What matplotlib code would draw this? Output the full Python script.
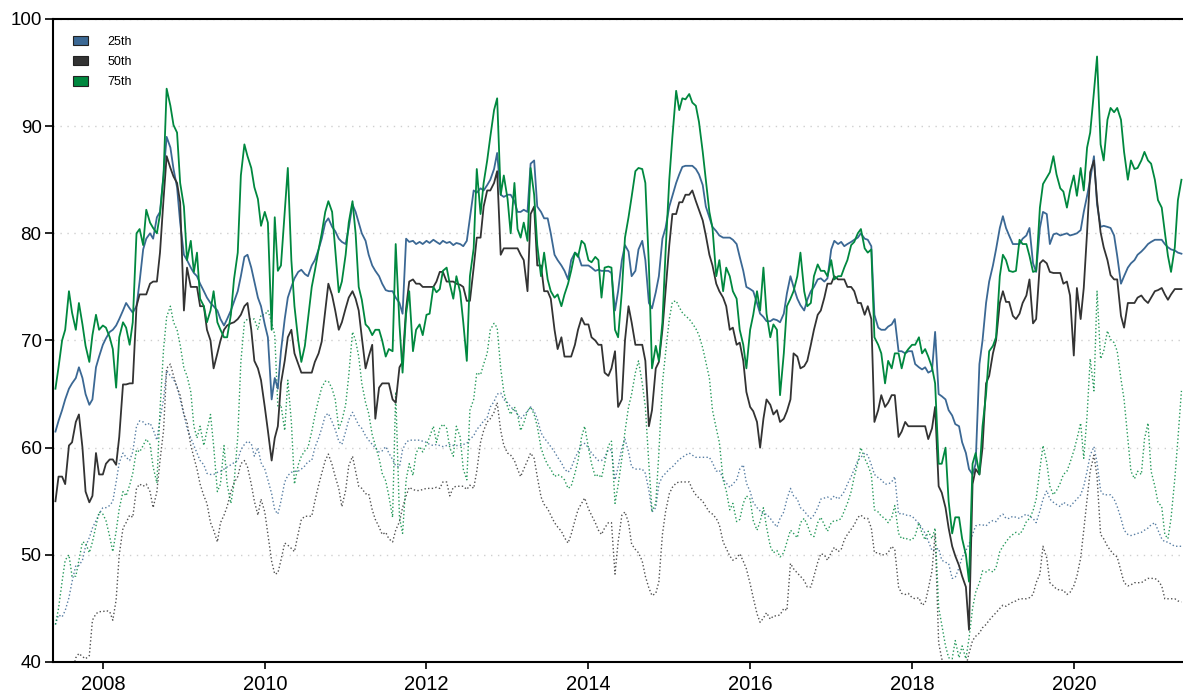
import matplotlib
matplotlib.use("Agg")
import matplotlib.pyplot as plt
import matplotlib.dates as mdates
from matplotlib.patches import Patch
import pandas as pd

plt.rcParams["font.family"] = ["Liberation Sans", "DejaVu Sans"]

# Semi-monthly observations (1st and 15th), June 2007 - May 2021
START = "2007-06-01"

labels = ["25th", "50th", "75th"]
colors = ["#3b6894", "#333333", "#00883f"]

# Current percentile levels (solid lines)
p25 = [
    61.5, 62.5, 63.5, 64.5, 65.5, 66, 66.5, 67.5, 66.5, 65, 64, 64.5, 67.5, 68.5,
    69.6, 70.2, 70.8, 71, 71.4, 72, 72.8, 73.5, 73, 72.6, 73.2, 75.5, 78.5, 79.5, 80, 79.5, 81.5, 82, 85.5, 89, 88, 86, 84.3, 81,
    78, 77.5, 76.8, 76.3, 76, 75.3, 74.6, 74, 73.5, 73.2, 72.8, 72, 71.4, 72, 72.8, 73.6, 74.6, 76, 77.8, 78, 76.8, 75.5, 74, 73.2,
    71.5, 70.3, 64.5, 66.5, 65.5, 69, 72, 74, 75, 75.8, 76.4, 76.6, 76.2, 76, 77, 77.5, 78.5, 79.5, 81, 81.4, 80.6, 80.2, 79.5, 79.2,
    79, 80.5, 82.7, 82, 81, 80, 79.3, 78, 77, 76.5, 76, 75.3, 74.7, 74.6, 74.6, 74, 73.5, 72.5, 79.5, 79.2, 79.3, 79, 79.2, 79,
    79.3, 79.1, 79.4, 79.2, 79, 79.3, 79.1, 79.2, 78.9, 79.1, 79, 78.8, 79.3, 81.4, 84, 83.8, 84.2, 84, 84.5, 85, 86, 87.5, 83.6, 83.4,
    83.6, 83.6, 83, 82, 82, 82.2, 82, 86.5, 86.8, 82.5, 82, 81.4, 81.4, 80, 78, 77.5, 77, 76.5, 75.7, 77.5, 78.2, 78, 77, 77,
    77, 76.8, 76.5, 76.6, 76.5, 76.5, 76.5, 76.3, 72.8, 74.6, 77.5, 78.9, 78.3, 76, 76.5, 78.5, 79.3, 77.5, 73.5, 73, 74.5, 76, 79.5, 80.5,
    82.5, 83.5, 84.7, 85.5, 86.2, 86.3, 86.3, 86.3, 86, 85.5, 84.5, 82.5, 81.5, 80.6, 80.2, 79.8, 79.6, 79.6, 79.6, 79.4, 79, 77.8, 76.5, 75,
    74.8, 74.6, 73.5, 72.5, 72.2, 71.8, 71.8, 72, 71.9, 71.7, 72.5, 74.4, 76, 75, 73.9, 73.3, 72.8, 73.8, 74.6, 75, 75.7, 75.8, 75.5, 75.8,
    78.5, 79.3, 79, 79.2, 78.8, 79, 79.2, 79.4, 79.6, 80, 79.5, 79.4, 78.8, 72.4, 71.2, 71, 71, 71.3, 71.5, 72, 69, 69, 68.8, 69,
    69, 67.8, 67.5, 67.3, 67.5, 67, 67.2, 70.8, 65, 64.8, 64.5, 63.5, 63, 62.2, 62, 60.5, 59.5, 58, 57.5, 58.5, 67.8, 70, 73.5, 75.5,
    77, 78.5, 80.5, 81.6, 80.5, 79.8, 79, 79, 79, 79.5, 79.8, 80.5, 77.2, 76.4, 80.5, 82, 81.8, 79, 79.9, 80, 79.8, 79.9, 80, 79.8,
    79.9, 80, 80.3, 82, 83.5, 85, 87.2, 82.7, 80.6, 80.7, 80.6, 80.5, 79.8, 77.9, 75.3, 76, 76.8, 77.2, 77.5, 78, 78.3, 78.6, 79, 79.2,
    79.4, 79.4, 79.4, 79, 78.7, 78.5, 78.4, 78.2, 78.1,
]
p50 = [
    55, 57.3, 57.3, 56.6, 60.2, 60.5, 62.4, 63.1, 60, 55.9, 54.9, 55.5, 59.5, 57.5,
    57.5, 58.5, 58.9, 58.9, 58.4, 61, 65.9, 65.9, 66, 66, 73.2, 74.3, 74.3, 74.3, 75.3, 75.5, 75.5, 78.2, 83.2, 87.2, 86.1, 85.3, 84.7, 82.9,
    72.8, 76.8, 75, 75, 75, 73.2, 73.2, 71, 70, 67.4, 68.8, 70, 71, 71.4, 71.6, 71.7, 72, 72.4, 73.2, 73.5, 71, 68.1, 67.4, 66.3,
    63.8, 61.6, 58.8, 60.9, 62, 66, 68.1, 70.3, 71, 68.8, 67.8, 67, 67, 67, 67, 68, 68.8, 69.9, 72.8, 75.3, 74.2, 72.8, 71, 71.7,
    73, 74, 74.6, 73.9, 72.8, 70.3, 67.4, 68.5, 69.6, 62.7, 65.6, 66, 66, 66, 64.5, 64.2, 67.5, 68, 73, 75.5, 75.7, 75.3, 75.3, 75,
    75, 75, 75, 75.5, 76.4, 76.4, 75.5, 75.5, 75.5, 75.3, 75.2, 75, 73.7, 73.7, 76.8, 79.6, 79.6, 82.5, 84, 84, 84.7, 85.8, 78, 78.6,
    78.6, 78.6, 78.6, 78.6, 78, 77.5, 74.6, 81.8, 82.5, 77, 77, 74.6, 74.6, 73.9, 71, 69.2, 70.3, 68.5, 68.5, 68.5, 69.6, 71, 72.1, 71.5,
    71.5, 70.3, 70, 69.6, 69.6, 67, 66.7, 67.4, 69, 63.8, 64.5, 70, 73.2, 71.7, 69.6, 69.6, 69.6, 68.1, 62, 63.5, 67.4, 68, 71, 74.6,
    78.9, 81.8, 81.8, 82.9, 82.9, 83.6, 83.6, 84, 83, 82.2, 81.2, 79.8, 78, 77, 75.3, 74.6, 74, 73.2, 71, 71.2, 69.6, 69.8, 68.1, 65.2,
    63.8, 63.4, 62.4, 60, 62.7, 64.5, 64, 63.1, 63.5, 62.4, 62.7, 63.4, 64.5, 68.8, 68.5, 67.4, 67.6, 68.1, 69.6, 71, 72.4, 72.8, 74, 75.3,
    75.3, 76, 75.7, 75.7, 75.7, 75, 75, 74.6, 73.5, 73.5, 72.4, 73.2, 72, 62.4, 63.5, 64.9, 63.8, 64.2, 64.9, 64.9, 61, 61.5, 62.4, 62,
    62, 62, 62, 62, 62, 60.8, 61.8, 63.8, 56.4, 55.8, 54.4, 52.5, 50.8, 49.9, 49, 48, 47, 43, 56.6, 58, 57.5, 60, 66, 66.7,
    68.8, 70, 73.5, 74.6, 73.6, 73.6, 72.3, 72, 72.5, 73.5, 74.2, 75.7, 71.6, 72, 77.2, 77.5, 77.2, 76.4, 76.3, 76.3, 76.3, 75.3, 75.5, 74.2,
    68.6, 74.9, 72, 74.9, 80.1, 85.7, 86.8, 83.1, 80.1, 78.7, 77.5, 76.1, 75.7, 75.7, 72.3, 71.2, 73.5, 73.5, 73.5, 74, 74.2, 73.8, 73.5, 74,
    74.6, 74.7, 74.9, 74.3, 73.8, 74.3, 74.8, 74.8, 74.8,
]
p75 = [
    65.5, 67.5, 70, 71, 74.6, 72.6, 71, 73.5, 71.5, 69.5, 68, 70.5, 72.4, 71,
    71.4, 71.2, 70.3, 69.2, 65.6, 70.3, 71.7, 71.2, 69.6, 71.7, 80, 80.4, 78.9, 82.2, 81, 80.5, 80, 81.8, 85.4, 93.5, 91.9, 90.1, 89.4, 84.7,
    82.5, 77.5, 79.3, 76.4, 78.2, 73.9, 73.2, 71.7, 72.8, 74.6, 71.7, 71, 70.3, 70.3, 72.4, 75.7, 78.2, 85.4, 88.3, 87.2, 86.1, 84.3, 83.2, 80.7,
    82, 81, 71, 81.5, 76.5, 77, 82, 86.1, 77.5, 73.2, 70, 68, 69.5, 72, 75, 76.5, 78.5, 80, 82, 83, 82, 78.5, 74.5, 75.5,
    78, 81, 83, 80, 75, 73.8, 71.5, 71.2, 70.5, 71, 71, 70, 68.5, 69.2, 69, 79, 71.5, 67, 72.5, 74.6, 69, 71, 71.5, 70.5,
    72.4, 72.5, 75, 74.5, 74.8, 76.5, 76.8, 75.3, 73.9, 76, 74.5, 71.7, 68.1, 76, 78.6, 86, 81.8, 84.7, 86.8, 89, 91.5, 92.6, 83.6, 85.4,
    83.2, 80, 84.7, 80.4, 79.6, 81, 79.3, 86.1, 83.6, 78.9, 76, 78.2, 75.7, 74.6, 74, 74.3, 73.2, 74.3, 75.3, 76.5, 78.2, 77.8, 79.3, 79,
    77.5, 77.3, 77.8, 77.5, 74, 76.8, 76.9, 76.8, 71, 70.3, 74.6, 79.6, 81.5, 83.4, 85.8, 86.1, 86, 84.7, 77, 67.4, 69.5, 68.1, 71.7, 78.2,
    85, 89, 93.3, 91.5, 92.6, 92.5, 93, 92.2, 91.9, 90.4, 87.6, 85, 82, 80.5, 76, 77.5, 74.6, 76.8, 76, 74.6, 73.9, 71, 69.6, 67.4,
    71, 72.4, 74.6, 72.8, 76.8, 72.5, 70.3, 71.5, 71, 64.9, 68.8, 73.2, 73.9, 74.6, 76, 78.2, 74.6, 73.2, 73.5, 76, 77.1, 76.5, 76.5, 76,
    77.5, 75.7, 76, 76, 76.8, 77.5, 78.9, 79.2, 80, 80.4, 78.6, 78.2, 78.5, 70.3, 69.6, 68.8, 66, 68.1, 67.4, 68.8, 68.8, 67.4, 68.8, 69.2,
    69.6, 69.6, 70.3, 68.8, 69.2, 68.5, 67.5, 66, 58.5, 58.5, 60, 55, 52, 53.5, 53.5, 51.5, 50, 47.5, 58.5, 59.5, 57.5, 62, 65, 69,
    69.5, 70.3, 76, 78, 77.5, 76.5, 76.4, 76.5, 79.4, 79, 79, 77.9, 76.4, 76.5, 82.4, 84.6, 85.2, 85.7, 87.2, 85.5, 84.2, 83.9, 82.4, 84,
    85.4, 83.5, 86.1, 84, 88, 89.4, 93.2, 96.5, 88.3, 86.8, 90.6, 91.7, 91.3, 91.7, 90.6, 87.6, 85, 86.8, 86, 86.1, 86.8, 87.6, 86.8, 86.5,
    85, 83.1, 82.4, 80.1, 77.9, 76.4, 78.7, 83.1, 85,
]

# Comparison levels (dotted lines)
p25_ref = [
    43.5, 44.4, 44.2, 44.8, 46, 47.5, 49, 49, 49.5, 50.8, 51.6, 52.5, 53.2, 53.8,
    54.4, 54.4, 54.6, 55, 56.8, 58.6, 59.5, 59.1, 58.8, 59.6, 62, 62.5, 62.4, 62.1, 62.3, 61.7, 60.7, 62.7, 64.5, 67.2, 66.7, 66.4, 65.7, 64.5,
    63.1, 61.8, 60.9, 60.2, 59.5, 58.8, 58.4, 57.6, 57.5, 57.5, 57.7, 57.8, 58, 58.2, 58.4, 58.6, 58.8, 59.8, 60.3, 60.6, 60.4, 59.2, 60, 58.6,
    58, 57, 55.7, 54.2, 53.8, 55, 56.8, 57.4, 57.7, 57.8, 57.8, 58, 58.3, 58.7, 58.8, 60, 60.9, 61.8, 63, 63.2, 62.4, 61.7, 60.6, 60.3,
    61.5, 62.6, 63.3, 62.7, 62.1, 61.8, 61.1, 60.7, 60.3, 60, 59.6, 59.7, 60.1, 59.5, 58.9, 58.3, 58.2, 59.8, 60.5, 60.7, 60.7, 60.7, 60.7, 60.6,
    60.5, 60.3, 60.2, 60.3, 60.2, 60.1, 60.2, 60.3, 60.2, 60.2, 60.2, 60.3, 60.4, 60.8, 61.1, 61.7, 62.1, 62.5, 62.8, 63.8, 64.3, 65, 65.1, 64.5,
    64.2, 63.8, 63.5, 63.1, 62.7, 63, 63.4, 63.8, 63.4, 62.7, 61.4, 60.9, 60.5, 60.1, 59.6, 59.1, 58.6, 58, 57.7, 58.1, 59, 59.6, 60.3, 60.4,
    60, 59.5, 59.1, 58.8, 58.8, 59.1, 59.8, 59.8, 57, 58.2, 60, 60.8, 59.6, 58.2, 58, 58, 58, 57.6, 56, 54, 54.4, 56.6, 57.3, 57.6,
    58, 58.2, 58.6, 58.9, 59.1, 59.3, 59.5, 59.3, 59.1, 59.1, 59.1, 59.1, 59.1, 58.6, 57.8, 57.9, 57.1, 56.7, 56.3, 56.6, 57, 58, 58.4, 56.7,
    55.9, 54.9, 54.4, 54.1, 53.8, 53.8, 53.4, 53, 52.6, 53.4, 54, 55.2, 56.2, 55.5, 55.2, 54.4, 54.1, 53.7, 53.4, 53.7, 54.4, 55.2, 55.3, 55.4,
    55.2, 55.5, 55.2, 55.5, 55.9, 56.6, 57.3, 58, 58.8, 59.1, 59.5, 59.3, 58.4, 57.5, 57.2, 57, 56.6, 56.6, 56.8, 57.3, 53.8, 53.9, 53.7, 53.7,
    53.6, 53.3, 52.9, 52.5, 52, 51.3, 50.4, 50.5, 50.6, 49.5, 49.3, 49.2, 47.8, 47.9, 48.8, 49.8, 50.4, 51, 51.9, 52.7, 52.8, 52.8, 52.7, 53,
    53.2, 53.1, 53.6, 53.8, 53.4, 53.4, 53.6, 53.5, 53.4, 53.6, 53.8, 53.6, 53.4, 53, 54.1, 55.2, 56, 55.2, 54.9, 54.7, 54.5, 54.9, 54.7, 54.5,
    54.9, 55.2, 55.6, 56.4, 57.8, 59.3, 60.1, 58.6, 56, 55.6, 55.6, 55.6, 55.2, 54.5, 53.4, 52.3, 51.9, 51.8, 51.9, 52, 52.1, 52.3, 52.5, 52.8,
    53, 52.3, 51.5, 51.2, 51.2, 51, 50.8, 50.8, 50.8,
]
p50_ref = [
    38.5, 38.5, 38.3, 38.2, 38.5, 39, 40.4, 40.8, 40.5, 40.3, 40.6, 43.9, 44.5, 44.7,
    44.7, 44.8, 44.7, 43.9, 45.8, 50, 52.5, 53, 53.7, 53.5, 56.2, 56.6, 56.4, 56.6, 55.9, 54.4, 55.9, 58.8, 61.6, 67.4, 67.8, 66.7, 65.6, 64.9,
    63.1, 62.4, 60.2, 59.1, 58, 56.6, 55.5, 54.8, 53, 52.3, 51.2, 53, 53.7, 54.5, 55.9, 56.7, 57.3, 58.5, 58.8, 58.2, 56.6, 55, 53.7, 55.2,
    54, 51.9, 49.4, 48.2, 48.3, 49.5, 51.1, 50.9, 50.6, 50.3, 52, 53.3, 53.6, 53.6, 53.6, 55, 56.5, 57.6, 58.8, 59.4, 58.4, 57.3, 56.2, 54.5,
    56, 58.3, 59.2, 57.8, 56.4, 56.2, 55.7, 55.7, 54.2, 53.3, 52.6, 51.9, 52.1, 51.5, 51.2, 52.3, 53.1, 54.4, 55.5, 56.3, 56.1, 56, 56, 56.1,
    56.2, 56.2, 56.2, 56.3, 56.2, 56.8, 56.8, 55.5, 56.3, 56.4, 56.4, 56.4, 56.1, 56.5, 56.2, 57.8, 60.5, 61.6, 62.4, 62.7, 63.3, 64.2, 61.6, 60.2,
    59.5, 59.3, 58.8, 58, 57.3, 58, 58.8, 59.5, 59, 57.3, 55.4, 54.7, 54.3, 53.7, 53, 52.6, 52.2, 51.6, 51.1, 51.9, 53.2, 54.2, 54.8, 55.3,
    54.3, 53.7, 53, 52.3, 51.9, 52.5, 53, 53, 48.2, 51.2, 53.7, 54, 53, 51, 50.5, 50.2, 49.4, 48, 46.9, 46.2, 46.4, 47.5, 51.9, 54,
    55.7, 56.3, 56.7, 56.8, 56.8, 56.8, 56.8, 56.1, 55.6, 55.3, 55, 54.5, 54, 53.8, 53.4, 52.8, 51.2, 50.6, 49.9, 49.5, 49.7, 50.1, 49.4, 48.7,
    47.3, 46, 44.5, 43.7, 44.1, 44.6, 44, 44.3, 44.3, 44.4, 45, 44.8, 49.2, 48.7, 48.3, 48, 47.6, 47, 47, 48, 49.3, 50.1, 50, 49.5,
    50.2, 50.7, 50.3, 50.5, 51.4, 51.9, 52.4, 52.8, 53.5, 53.7, 53.4, 53.4, 52.5, 50.2, 50.2, 50, 50, 50.2, 50.8, 50.5, 47, 46.4, 46.3, 46.4,
    46, 45.9, 46, 45.3, 45.5, 46.8, 48.5, 52, 41.8, 40.3, 39.6, 39.4, 39.3, 39.4, 39.5, 39.4, 39.6, 40.8, 42, 42.4, 42.7, 43.2, 43.5, 43.9,
    44.3, 44.6, 45, 45.3, 45.2, 45.4, 45.6, 45.7, 45.9, 45.9, 45.9, 46, 46.3, 47.4, 48.2, 50.8, 49.7, 47.4, 47.1, 46.8, 46.7, 46.7, 46.3, 46.5,
    47.1, 48, 49.7, 52.3, 55.2, 57.8, 59.3, 57.3, 51.9, 51.5, 50.8, 50.4, 50, 49.8, 48.5, 47.4, 47.1, 47.2, 47.4, 47.4, 47.4, 47.6, 47.8, 47.8,
    47.8, 47.6, 47.1, 45.9, 45.9, 45.9, 45.9, 45.7, 45.6,
]
p75_ref = [
    43.5, 45, 47.5, 49.5, 50, 48, 48, 49.5, 51.2, 51.1, 50.2, 51.2, 52.7, 54,
    53.8, 53.2, 51.7, 50.3, 52.2, 54.3, 55.9, 55.5, 56.5, 57.6, 59.8, 59.6, 60.2, 60.8, 60.3, 58.2, 56.7, 63.5, 69.2, 72.2, 73.2, 71.7, 71, 69.6,
    67.4, 66.7, 65.2, 62, 60.9, 62, 60.2, 61.6, 63.1, 60.2, 55.9, 56.6, 60.2, 56.6, 54.8, 56.6, 61, 68, 71.7, 72, 72, 72, 71, 72.4,
    72.4, 72.8, 71.7, 70.5, 63.8, 64, 61.6, 66.3, 62.4, 56.6, 58.4, 59.2, 59.7, 60, 61.5, 63, 64.5, 65.6, 66.2, 66.2, 65.5, 64.5, 61.8, 62.5,
    64, 66.7, 70.8, 70, 68.5, 66, 64.2, 63.2, 61.2, 60.2, 59, 57.6, 56.9, 55.5, 53.5, 65.2, 53.5, 52, 57, 58.5, 57.4, 59.5, 60.1, 59.6,
    60.3, 61, 62, 60.5, 61.8, 62.2, 61.8, 60, 59.2, 62, 61, 58, 57, 63.5, 64.5, 67, 66.8, 67.8, 68.8, 71, 71.6, 71.2, 67.4, 65.2,
    63.8, 63.1, 63.8, 63.1, 61.6, 62.3, 63.4, 63.8, 63.1, 62, 60, 59.1, 58.4, 58, 57.3, 57.5, 57.3, 57, 56.2, 56.4, 57.6, 58.8, 61, 62,
    60, 58.5, 57.3, 57.5, 57.2, 58.5, 60.2, 60.6, 54.8, 56.5, 59, 61.5, 63.8, 65, 67, 68.1, 66, 63.8, 58.4, 54.1, 54.8, 59.5, 66, 68.8,
    72, 73.6, 73.7, 73.1, 72.6, 72.3, 72, 71.6, 71.1, 70.5, 69.3, 68, 66.5, 63.5, 61.8, 60.5, 57, 56, 54.2, 54.8, 53.1, 53.3, 54.8, 55.5,
    55.2, 53.2, 52.3, 53.1, 54.4, 52.6, 50.8, 50.2, 50.4, 49.8, 50.2, 51.2, 52.3, 52, 51.6, 53, 53.4, 52.8, 51.9, 51.7, 53, 53.5, 52.8, 52.2,
    53, 53.2, 53.2, 53.4, 54.1, 54.8, 55.9, 57.3, 58.6, 60, 59, 58.4, 57.5, 54.2, 54, 53.6, 53.4, 53, 53.5, 54.6, 52, 51.5, 51.6, 51.4,
    51.4, 51.8, 53, 52, 51.4, 52.2, 51.5, 52.5, 45.1, 43.5, 41.5, 40.4, 40.3, 42, 40.4, 41.5, 40.3, 42.2, 45, 46.5, 47.4, 48.5, 48.4, 48.6,
    48.4, 48.8, 50.3, 50.8, 51.2, 51.6, 51.9, 52.1, 51.9, 52.3, 53.1, 53.4, 54.1, 55.2, 58, 60.2, 58.6, 56.4, 55.6, 56, 56.7, 57.5, 57.8, 58.6,
    59.7, 60.8, 62.3, 59, 63, 68.3, 65.3, 74.6, 68.3, 69, 70.9, 70.1, 69.8, 69, 66.4, 64.5, 60.8, 57.8, 57.1, 57.8, 57.5, 60.8, 62.3, 57.8,
    56.4, 54.9, 54.5, 51.9, 51.5, 53.4, 57.1, 60.8, 65.3,
]

current = [p25, p50, p75]
reference = [p25_ref, p50_ref, p75_ref]


def dates_for(values):
    return pd.date_range(START, periods=len(values), freq="SMS")


W, H = 1183, 693
fig = plt.figure(figsize=(W / 100, H / 100), dpi=100)
ax = fig.add_axes([53 / W, 1 - 662 / H, 1130 / W, 643 / H])

for vals, c in zip(reference, colors):
    ax.plot(dates_for(vals), vals, color=c, lw=1.0, linestyle=":",
            alpha=0.85, zorder=2)
for vals, c in zip(current, colors):
    ax.plot(dates_for(vals), vals, color=c, lw=1.3, zorder=3)

ax.set_ylim(40, 100)
ax.set_yticks(range(40, 101, 10))
ax.set_xlim(pd.Timestamp("2007-05-21"), pd.Timestamp("2021-05-08"))
ax.xaxis.set_major_locator(mdates.YearLocator(2))
ax.xaxis.set_major_formatter(mdates.DateFormatter("%Y"))

ax.yaxis.grid(True, linestyle=(0, (1, 4)), color="#cfcfcf", lw=1.0)
ax.set_axisbelow(True)

for side in ("top", "left", "bottom"):
    ax.spines[side].set_linewidth(1.5)
    ax.spines[side].set_color("black")
ax.spines["right"].set_visible(False)

ax.tick_params(axis="y", direction="out", length=5.8, width=1.2,
               labelsize=13.5, colors="black", pad=2.4)
ax.tick_params(axis="x", direction="out", length=5, width=1.2,
               labelsize=14.5, colors="black", pad=4.5)

handles = [Patch(facecolor=c, edgecolor="#222222", lw=0.8) for c in colors]
ax.legend(handles, labels, loc="upper left", bbox_to_anchor=(0.013, 0.982),
          frameon=False, fontsize=9, handlelength=1.25, handleheight=0.8,
          handletextpad=1.5, labelspacing=0.65, borderaxespad=0.0)

fig.savefig("out.png", dpi=100)
